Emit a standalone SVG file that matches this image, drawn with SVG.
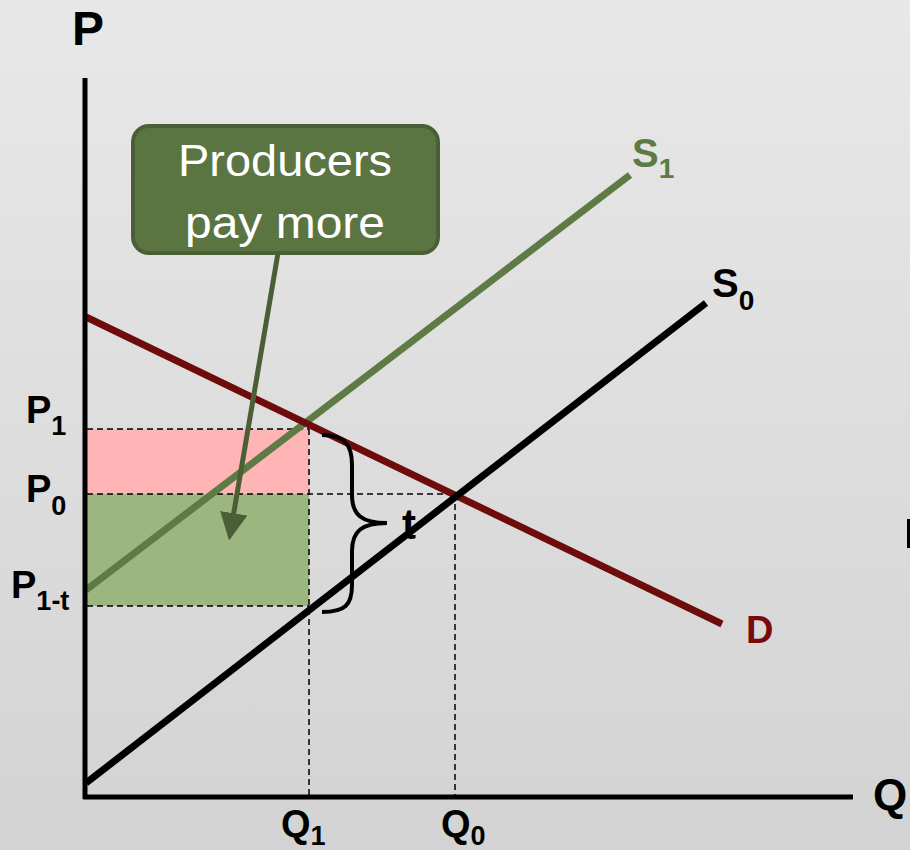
<svg xmlns="http://www.w3.org/2000/svg" width="910" height="850" viewBox="0 0 910 850">
<defs>
<linearGradient id="bg" x1="0" y1="0" x2="0" y2="1">
<stop offset="0" stop-color="#e8e8e8"/>
<stop offset="1" stop-color="#d3d3d3"/>
</linearGradient>
<marker id="ah" viewBox="0 0 10 10" refX="8" refY="5" markerWidth="5.5" markerHeight="5.5" orient="auto" markerUnits="strokeWidth">
<path d="M0,0 L10,5 L0,10 z" fill="#4b5f37"/>
</marker>
<style>
.lbl{font-family:"Liberation Sans",Arial,sans-serif;font-weight:bold}
.dash{stroke:#000;stroke-width:1.5;stroke-dasharray:6 4;fill:none}
.curve{fill:none;stroke-width:7;stroke-linecap:butt}
</style>
</defs>
<rect x="0" y="0" width="910" height="850" fill="url(#bg)"/>
<g id="areas">
<rect x="87" y="429" width="222" height="65" fill="#ffb5b5"/>
<rect x="87" y="494" width="222" height="112" fill="#9bb77f"/>
</g>
<g id="guides">
<line class="dash" x1="87" y1="429" x2="309" y2="429"/>
<line class="dash" x1="87" y1="494" x2="455" y2="494"/>
<line class="dash" x1="87" y1="606" x2="309" y2="606"/>
<line class="dash" x1="309" y1="429" x2="309" y2="797"/>
<line class="dash" x1="455" y1="494" x2="455" y2="797"/>
</g>
<g id="curves">
<line id="S1" class="curve" x1="86" y1="590" x2="630" y2="175" stroke="#5e7b45"/>
<line id="D" class="curve" x1="86" y1="317" x2="722" y2="624" stroke="#6e0b0b"/>
<line id="S0" class="curve" x1="86" y1="783" x2="706" y2="303" stroke="#000"/>
</g>
<g id="axes">
<line x1="85" y1="78" x2="85" y2="799" stroke="#000" stroke-width="5"/>
<line x1="83" y1="797" x2="853" y2="797" stroke="#000" stroke-width="5"/>
</g>
<g id="brace">
<path d="M322,435 C345,435 352,445 352,465 L352,495 C352,515 362,523 387,523 C362,523 352,531 352,551 L352,585 C352,605 345,612 322,612" fill="none" stroke="#000" stroke-width="4"/>
<text class="lbl" x="409" y="539" font-size="42" text-anchor="middle">t</text>
</g>
<g id="connectors">
<line x1="278" y1="253" x2="230" y2="535" stroke="#4b5f37" stroke-width="5" marker-end="url(#ah)"/>
</g>
<g id="callout">
<rect x="133" y="126" width="305" height="127" rx="16" ry="16" fill="#5b7542" stroke="#4b5f37" stroke-width="4"/>
<text x="285" y="176" font-family="Liberation Sans,Arial,sans-serif" font-size="44" fill="#fff" text-anchor="middle" textLength="214" lengthAdjust="spacingAndGlyphs">Producers</text>
<text x="285" y="238" font-family="Liberation Sans,Arial,sans-serif" font-size="44" fill="#fff" text-anchor="middle" textLength="200" lengthAdjust="spacingAndGlyphs">pay more</text>
</g>
<g id="labels">
<text class="lbl" x="88" y="45" font-size="48" text-anchor="middle">P</text>
<text class="lbl" x="873" y="810" font-size="44">Q</text>
<text class="lbl" x="26" y="423" font-size="38">P<tspan font-size="27" y="435">1</tspan></text>
<text class="lbl" x="26" y="502" font-size="38">P<tspan font-size="27" y="515">0</tspan></text>
<text class="lbl" x="11" y="598" font-size="38">P<tspan font-size="27" y="610">1-t</tspan></text>
<text class="lbl" x="281" y="837" font-size="38">Q<tspan font-size="27" y="845">1</tspan></text>
<text class="lbl" x="441" y="837" font-size="38">Q<tspan font-size="27" y="845">0</tspan></text>
<text class="lbl" x="632" y="167" font-size="40" fill="#5e7b45">S<tspan font-size="28" y="178">1</tspan></text>
<text class="lbl" x="712" y="297" font-size="40" fill="#000">S<tspan font-size="28" y="310">0</tspan></text>
<text class="lbl" x="746" y="643" font-size="38" fill="#7a0a0a">D</text>
<rect x="907" y="519" width="3" height="29" fill="#000"/>
</g>
</svg>
